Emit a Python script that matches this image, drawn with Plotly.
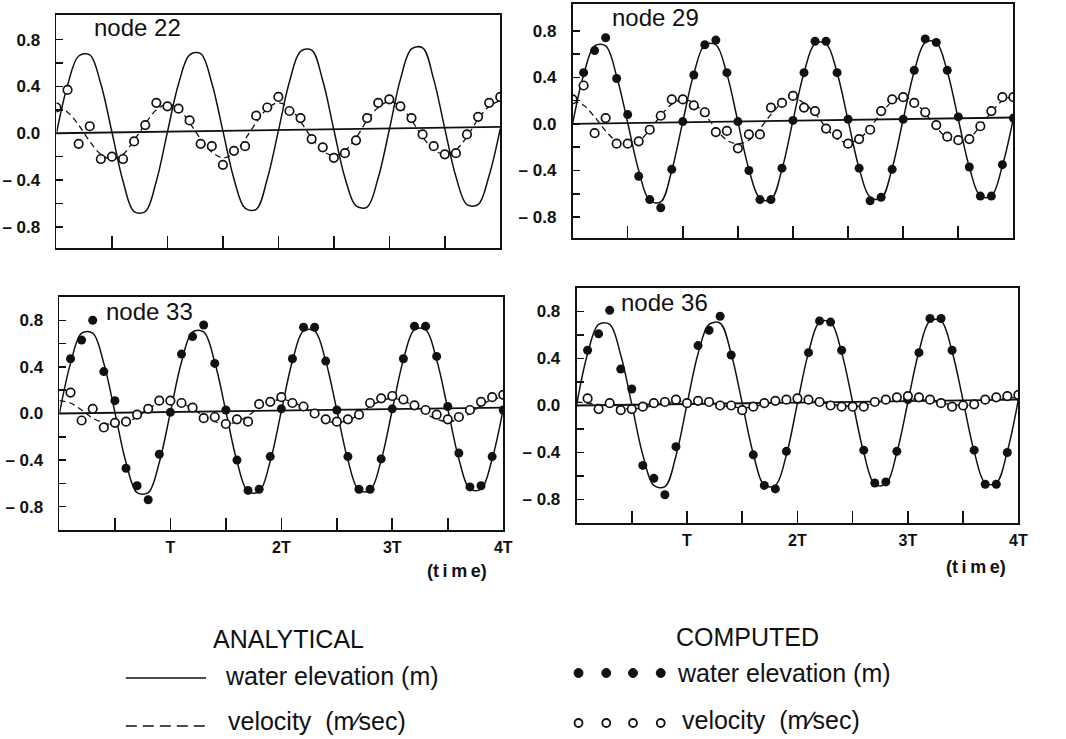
import plotly.graph_objects as go

# ---------------- data ----------------
# time in units of the tidal period T, computed values every 0.1 T
time_T = [round(0.1 * k, 1) for k in range(41)]
baseline_t = [0.0, 4.0]

# node 22
baseline_22 = [0.0, 0.055]
ana_elev_22 = [0.00, 0.41, 0.66, 0.67, 0.42, 0.01, -0.41, -0.67, -0.67, -0.41, 0.01,
               0.42, 0.67, 0.68, 0.43, 0.02, -0.39, -0.64, -0.65, -0.39, 0.02,
               0.44, 0.70, 0.71, 0.45, 0.03, -0.38, -0.62, -0.63, -0.38, 0.03,
               0.46, 0.72, 0.73, 0.46, 0.04, -0.37, -0.61, -0.61, -0.36, 0.04]
ana_vel_22 = [0.22, 0.18, 0.07, -0.07, -0.18, -0.22, -0.18, -0.06, 0.08, 0.20, 0.25,
              0.21, 0.09, -0.05, -0.16, -0.21, -0.17, -0.05, 0.09, 0.21, 0.26,
              0.22, 0.10, -0.04, -0.15, -0.19, -0.15, -0.04, 0.11, 0.22, 0.27,
              0.23, 0.11, -0.03, -0.14, -0.18, -0.14, -0.03, 0.12, 0.23, 0.28]
vel_comp_22 = [0.22, 0.37, -0.09, 0.06, -0.22, -0.20, -0.22, -0.07, 0.07, 0.26, 0.23,
               0.21, 0.11, -0.09, -0.11, -0.27, -0.15, -0.11, 0.15, 0.22, 0.31,
               0.19, 0.13, -0.05, -0.12, -0.21, -0.17, -0.06, 0.13, 0.26, 0.29,
               0.23, 0.13, -0.01, -0.11, -0.18, -0.17, -0.01, 0.14, 0.26, 0.31]

# node 29
baseline_29 = [0.0, 0.055]
ana_elev_29 = [0.00, 0.42, 0.67, 0.67, 0.41, 0.01, -0.40, -0.66, -0.67, -0.40, 0.02,
               0.43, 0.68, 0.68, 0.43, 0.02, -0.39, -0.64, -0.65, -0.39, 0.03,
               0.44, 0.69, 0.69, 0.44, 0.03, -0.38, -0.63, -0.64, -0.38, 0.04,
               0.45, 0.70, 0.70, 0.45, 0.04, -0.37, -0.62, -0.62, -0.36, 0.05]
ana_vel_29 = [0.20, 0.16, 0.06, -0.06, -0.15, -0.18, -0.15, -0.05, 0.07, 0.17, 0.21,
              0.18, 0.08, -0.04, -0.14, -0.17, -0.14, -0.04, 0.08, 0.18, 0.22,
              0.18, 0.09, -0.03, -0.13, -0.16, -0.13, -0.03, 0.09, 0.19, 0.23,
              0.19, 0.09, -0.03, -0.12, -0.15, -0.12, -0.02, 0.10, 0.20, 0.24]
elev_comp_29 = [None, 0.44, 0.63, 0.74, 0.39, 0.08, -0.45, -0.65, -0.72, -0.39, 0.02,
                0.42, 0.68, 0.72, 0.44, 0.02, -0.40, -0.65, -0.65, -0.38, 0.03,
                0.44, 0.71, 0.71, 0.44, 0.04, -0.38, -0.66, -0.63, -0.39, 0.04,
                0.46, 0.73, 0.70, 0.46, 0.06, -0.37, -0.62, -0.62, -0.35, 0.05]
vel_comp_29 = [0.21, 0.33, -0.08, 0.05, -0.17, -0.17, -0.15, -0.05, 0.07, 0.21, 0.21,
               0.16, 0.10, -0.07, -0.06, -0.21, -0.09, -0.09, 0.14, 0.18, 0.24,
               0.14, 0.11, -0.04, -0.09, -0.17, -0.13, -0.05, 0.11, 0.21, 0.23,
               0.18, 0.10, -0.01, -0.11, -0.14, -0.13, -0.02, 0.11, 0.23, 0.23]

# node 33
baseline_33 = [0.0, 0.05]
ana_elev_33 = [0.00, 0.43, 0.69, 0.69, 0.43, 0.01, -0.42, -0.68, -0.68, -0.42, 0.01,
               0.44, 0.70, 0.70, 0.44, 0.02, -0.41, -0.67, -0.67, -0.41, 0.02,
               0.45, 0.71, 0.71, 0.45, 0.03, -0.40, -0.66, -0.66, -0.40, 0.03,
               0.46, 0.72, 0.72, 0.46, 0.04, -0.39, -0.65, -0.65, -0.39, 0.04]
ana_vel_33 = [0.11, 0.09, 0.03, -0.04, -0.08, -0.10, -0.08, -0.03, 0.04, 0.09, 0.11,
              0.09, 0.04, -0.02, -0.07, -0.09, -0.07, -0.02, 0.05, 0.10, 0.12,
              0.10, 0.05, -0.01, -0.06, -0.08, -0.06, -0.01, 0.06, 0.11, 0.13,
              0.11, 0.06, 0.00, -0.05, -0.07, -0.05, 0.00, 0.07, 0.12, 0.14]
elev_comp_33 = [None, 0.47, 0.63, 0.80, 0.36, 0.11, -0.47, -0.62, -0.74, -0.35, 0.01,
                0.51, 0.66, 0.76, 0.43, 0.03, -0.40, -0.66, -0.65, -0.37, 0.04,
                0.47, 0.74, 0.74, 0.45, 0.03, -0.37, -0.65, -0.65, -0.39, 0.04,
                0.47, 0.75, 0.75, 0.49, 0.06, -0.34, -0.63, -0.62, -0.37, 0.03]
vel_comp_33 = [None, 0.18, -0.06, 0.04, -0.12, -0.08, -0.07, -0.01, 0.04, 0.11, 0.11,
               0.09, 0.05, -0.04, -0.03, -0.09, -0.05, -0.07, 0.08, 0.10, 0.14,
               0.09, 0.06, 0.00, -0.05, -0.07, -0.05, -0.01, 0.09, 0.13, 0.15,
               0.12, 0.07, 0.03, -0.01, -0.05, -0.03, 0.03, 0.10, 0.14, 0.16]

# node 36
baseline_36 = [0.0, 0.05]
ana_elev_36 = [0.00, 0.44, 0.69, 0.69, 0.43, 0.01, -0.42, -0.68, -0.69, -0.43, 0.01,
               0.44, 0.69, 0.70, 0.44, 0.02, -0.41, -0.68, -0.68, -0.42, 0.02,
               0.45, 0.71, 0.71, 0.45, 0.03, -0.40, -0.67, -0.67, -0.40, 0.03,
               0.46, 0.72, 0.72, 0.46, 0.04, -0.39, -0.66, -0.66, -0.39, 0.05]
ana_vel_36 = [0.03, 0.02, 0.01, -0.01, -0.02, -0.03, -0.02, 0.00, 0.02, 0.03, 0.04,
              0.03, 0.02, 0.00, -0.01, -0.02, -0.01, 0.01, 0.03, 0.04, 0.05,
              0.04, 0.03, 0.01, 0.00, -0.01, 0.00, 0.02, 0.04, 0.05, 0.06,
              0.05, 0.04, 0.02, 0.01, 0.00, 0.01, 0.03, 0.05, 0.06, 0.07]
elev_comp_36 = [None, 0.47, 0.61, 0.81, 0.31, 0.14, -0.51, -0.62, -0.76, -0.35, 0.02,
                0.51, 0.64, 0.76, 0.43, -0.04, -0.42, -0.68, -0.71, -0.39, 0.05,
                0.45, 0.72, 0.71, 0.47, 0.00, -0.38, -0.66, -0.65, -0.39, 0.05,
                0.45, 0.74, 0.74, 0.47, 0.00, -0.38, -0.67, -0.67, -0.40, 0.09]
vel_comp_36 = [None, 0.06, -0.03, 0.02, -0.04, -0.03, -0.01, 0.02, 0.03, 0.05, 0.02,
               0.04, 0.03, 0.00, 0.00, -0.04, -0.01, 0.02, 0.04, 0.05, 0.06,
               0.05, 0.03, 0.00, -0.01, -0.01, -0.01, 0.03, 0.05, 0.07, 0.08,
               0.07, 0.05, 0.02, -0.01, 0.00, 0.01, 0.05, 0.07, 0.08, 0.09]

x_tick_vals = [0.5, 1.0, 1.5, 2.0, 2.5, 3.0, 3.5, 4.0]
x_tick_text = ["", "T", "", "2T", "", "3T", "", "4T"]
y_tick_vals = [-0.8, -0.6, -0.4, -0.2, 0.0, 0.2, 0.4, 0.6, 0.8]
y_tick_text = ["\u2013 0.8", "", "\u2013 0.4", "", "0.0", "", "0.4", "", "0.8"]

panels = [
    dict(name="node 22", ax="", base=baseline_22, ae=ana_elev_22, av=ana_vel_22,
         ce=None, cv=vel_comp_22),
    dict(name="node 29", ax="2", base=baseline_29, ae=ana_elev_29, av=ana_vel_29,
         ce=elev_comp_29, cv=vel_comp_29),
    dict(name="node 33", ax="3", base=baseline_33, ae=ana_elev_33, av=ana_vel_33,
         ce=elev_comp_33, cv=vel_comp_33),
    dict(name="node 36", ax="4", base=baseline_36, ae=ana_elev_36, av=ana_vel_36,
         ce=elev_comp_36, cv=vel_comp_36),
]

W, H = 1066, 739
# panel boxes in pixels: left, right, top, bottom ; y range
boxes = [
    (57, 505, 15, 248, [-0.98, 1.01]),
    (578, 1023, 4, 238, [-0.98, 1.03]),
    (60, 508, 297, 530, [-1.0, 1.0]),
    (582, 1028, 288, 523, [-1.0, 1.0]),
]

INK = "#111111"
FONT = "Liberation Sans, Arial, sans-serif"
fig = go.Figure()

for p in panels:
    xa = "x" + p["ax"]
    ya = "y" + p["ax"]
    fig.add_trace(go.Scatter(x=baseline_t, y=p["base"], mode="lines",
                             line=dict(color=INK, width=1.8), xaxis=xa, yaxis=ya,
                             hoverinfo="skip"))
    fig.add_trace(go.Scatter(x=time_T, y=p["ae"], mode="lines",
                             line=dict(color=INK, width=1.5, shape="spline", smoothing=1.0),
                             xaxis=xa, yaxis=ya, name="analytical water elevation"))
    fig.add_trace(go.Scatter(x=time_T, y=p["av"], mode="lines",
                             line=dict(color=INK, width=1.3, dash="6px,4px",
                                       shape="spline", smoothing=1.0),
                             xaxis=xa, yaxis=ya, name="analytical velocity"))
    if p["ce"] is not None:
        fig.add_trace(go.Scatter(x=time_T, y=p["ce"], mode="markers",
                                 marker=dict(color=INK, size=9, line=dict(width=0)),
                                 xaxis=xa, yaxis=ya, name="computed water elevation"))
    fig.add_trace(go.Scatter(x=time_T, y=p["cv"], mode="markers",
                             marker=dict(color="white", size=8.5,
                                         line=dict(color=INK, width=1.7)),
                             xaxis=xa, yaxis=ya, name="computed velocity"))

layout = dict(
    width=W, height=H, margin=dict(l=0, r=0, t=0, b=0),
    paper_bgcolor="white", plot_bgcolor="white", showlegend=False,
    font=dict(family=FONT, color=INK),
)

ytick_font = dict(family=FONT, size=17, color=INK, weight="bold")
xtick_font = dict(family=FONT, size=16, color=INK, weight="bold")
for i, (l, r, t, b, yr) in enumerate(boxes):
    suf = "" if i == 0 else str(i + 1)
    bottom_row = i >= 2
    layout["xaxis" + suf] = dict(
        domain=[l / W, r / W], range=[0, 4], anchor="y" + suf,
        showline=True, linecolor=INK, linewidth=1.8, mirror=True,
        showgrid=False, zeroline=False,
        ticks="inside", ticklen=12, tickwidth=1.6, tickcolor=INK,
        tickvals=x_tick_vals,
        ticktext=x_tick_text if bottom_row else [""] * len(x_tick_vals),
        tickfont=xtick_font, ticklabelstandoff=2, fixedrange=True,
    )
    layout["yaxis" + suf] = dict(
        domain=[1 - b / H, 1 - t / H], range=yr, anchor="x" + suf,
        showline=True, linecolor=INK, linewidth=1.8, mirror=True,
        showgrid=False, zeroline=False,
        ticks="inside", ticklen=7, tickwidth=1.5, tickcolor=INK,
        tickvals=y_tick_vals, ticktext=y_tick_text,
        tickfont=ytick_font, ticklabelstandoff=11, fixedrange=True,
    )

fig.update_layout(**layout)

# panel titles
title_pos = [(93, 27), (616, 18), (105, 311), (625, 302)]
for p, (tx, ty) in zip(panels, title_pos):
    fig.add_annotation(text=p["name"], x=tx / W, y=1 - ty / H, xref="paper", yref="paper",
                       xanchor="left", yanchor="middle", showarrow=False,
                       font=dict(family=FONT, size=24, color=INK))

# (time) labels
TS = "\u2009"
time_label = "(" + TS.join("time") + ")"
for (tx, ty) in [(461, 571), (985, 567)]:
    fig.add_annotation(text=time_label, x=tx / W, y=1 - ty / H, xref="paper", yref="paper",
                       xanchor="center", yanchor="middle", showarrow=False,
                       font=dict(family=FONT, size=18, color=INK, weight="bold"))

# legend block
LEG_FONT = dict(family=FONT, size=25, color=INK)
legend_texts = [
    ("ANALYTICAL", 213, 639),
    ("COMPUTED", 680, 637),
    ("water elevation (m)", 225, 676),
    ("velocity  (m\u2215sec)", 228, 721),
    ("water elevation (m)", 681, 673),
    ("velocity  (m\u2215sec)", 686, 720),
]
for txt, tx, ty in legend_texts:
    fig.add_annotation(text=txt, x=tx / W, y=1 - ty / H, xref="paper", yref="paper",
                       xanchor="left", yanchor="middle", showarrow=False, font=LEG_FONT)

# legend keys
fig.add_shape(type="line", xref="paper", yref="paper", x0=127 / W, x1=208 / W,
              y0=1 - 678 / H, y1=1 - 678 / H, line=dict(color=INK, width=1.5))
fig.add_shape(type="line", xref="paper", yref="paper", x0=127 / W, x1=212 / W,
              y0=1 - 726 / H, y1=1 - 726 / H, line=dict(color=INK, width=1.6, dash="11px,6px"))
for cx in [584, 612, 639, 667]:
    r = 4.5
    fig.add_shape(type="circle", xref="paper", yref="paper",
                  x0=(cx - r) / W, x1=(cx + r) / W, y0=1 - (673 + r) / H, y1=1 - (673 - r) / H,
                  fillcolor=INK, line=dict(color=INK, width=1))
    r2 = 4.0
    fig.add_shape(type="circle", xref="paper", yref="paper",
                  x0=(cx - r2) / W, x1=(cx + r2) / W, y0=1 - (723 + r2) / H, y1=1 - (723 - r2) / H,
                  fillcolor="white", line=dict(color=INK, width=1.8))

fig.write_html(
    "out.html",
    config={"displayModeBar": False, "staticPlot": True},
    post_script="document.body.style.margin='0';document.body.style.padding='0';"
                "document.body.style.overflow='hidden';",
)
